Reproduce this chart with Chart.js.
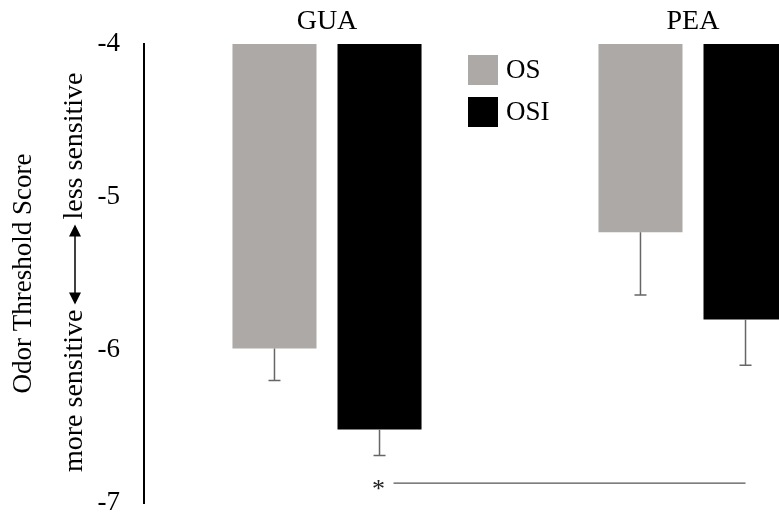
<!DOCTYPE html>
<html>
<head>
<meta charset="utf-8">
<script src="https://cdn.jsdelivr.net/npm/chart.js@4/dist/chart.umd.min.js"></script>
<style>
  html, body { margin: 0; padding: 0; background: #fff; overflow: hidden; }
  #wrap { width: 779px; height: 515px; overflow: hidden; }
</style>
</head>
<body>
<div id="wrap"><canvas id="c" width="876" height="515"></canvas></div>
<script>
// odorants
const categories = ['GUA', 'PEA']
// mean threshold scores (bars hang from -4)
const osValues = [-5.99, -5.23]
const osiValues = [-6.52, -5.80]
// error extents below each bar
const osErrors = [0.21, 0.41]
const osiErrors = [0.17, 0.30]
const yTicks = [-4, -5, -6, -7]
const sigLevel = -6.87

const serif = "'Liberation Serif', 'Times New Roman', serif"

// error bars, hanging below the bars
const errorBars = {
	id: 'errorBars',
	afterDatasetsDraw(chart) {
		const y = chart.scales.y
		const ctx = chart.ctx
		ctx.save()
		ctx.strokeStyle = '#666'
		ctx.lineWidth = 1.5
		chart.data.datasets.forEach((ds, i) => {
			chart.getDatasetMeta(i).data.forEach((bar, j) => {
				const y2 = y.getPixelForValue(ds.data[j] - ds.errors[j])
				ctx.beginPath()
				ctx.moveTo(bar.x, bar.y)
				ctx.lineTo(bar.x, y2)
				ctx.moveTo(bar.x - 6, y2)
				ctx.lineTo(bar.x + 6, y2)
				ctx.stroke()
			})
		})
		ctx.restore()
	}
}

// star + line comparing OSI bars
const significance = {
	id: 'significance',
	afterDatasetsDraw(chart) {
		const ctx = chart.ctx
		const bars = chart.getDatasetMeta(1).data
		const yy = chart.scales.y.getPixelForValue(sigLevel)
		ctx.save()
		ctx.fillStyle = '#222'
		ctx.font = '26px ' + serif
		ctx.textAlign = 'center'
		ctx.textBaseline = 'middle'
		ctx.fillText('*', bars[0].x - 1, yy + 7)
		ctx.strokeStyle = '#555'
		ctx.lineWidth = 1.2
		ctx.beginPath()
		ctx.moveTo(bars[0].x + 14, yy)
		ctx.lineTo(bars[1].x, yy)
		ctx.stroke()
		ctx.restore()
	}
}

// legend drawn inside the plot
const innerLegend = {
	id: 'innerLegend',
	afterDraw(chart) {
		const ctx = chart.ctx
		ctx.save()
		ctx.font = '27px ' + serif
		ctx.textBaseline = 'middle'
		chart.data.datasets.forEach((ds, i) => {
			const top = 55 + i * 42
			ctx.fillStyle = ds.backgroundColor
			ctx.fillRect(468, top, 30, 30)
			ctx.fillStyle = '#000'
			ctx.fillText(ds.label, 506, top + 16)
		})
		ctx.restore()
	}
}

// "more sensitive <-> less sensitive" beside the axis
const sensitivity = {
	id: 'sensitivity',
	afterDraw(chart) {
		const ctx = chart.ctx
		const a = chart.chartArea
		const cy = (a.top + a.bottom) / 2 - 9
		ctx.save()
		ctx.translate(75, cy)
		ctx.rotate(-Math.PI / 2)
		ctx.font = '28px ' + serif
		ctx.fillStyle = '#000'
		ctx.textBaseline = 'middle'
		const half = 40
		ctx.textAlign = 'right'
		ctx.fillText('more sensitive', -half - 5, 0)
		ctx.textAlign = 'left'
		ctx.fillText('less sensitive', half + 5, 0)
		ctx.strokeStyle = '#000'
		ctx.lineWidth = 1.5
		ctx.beginPath()
		ctx.moveTo(-half + 10, 0)
		ctx.lineTo(half - 10, 0)
		ctx.stroke()
		ctx.beginPath()
		ctx.moveTo(-half, 0); ctx.lineTo(-half + 12, -6); ctx.lineTo(-half + 12, 6); ctx.closePath()
		ctx.moveTo(half, 0); ctx.lineTo(half - 12, -6); ctx.lineTo(half - 12, 6); ctx.closePath()
		ctx.fill()
		ctx.restore()
	}
}

const chart = new Chart(document.getElementById('c'), {
	type: 'bar',
	data: {
		labels: categories,
		datasets: [
			{ label: 'OS', data: osValues, errors: osErrors, backgroundColor: '#ada9a6', base: -4 },
			{ label: 'OSI', data: osiValues, errors: osiErrors, backgroundColor: '#000000', base: -4 }
		]
	},
	options: {
		responsive: false,
		animation: false,
		devicePixelRatio: 1,
		layout: { padding: { left: 0, right: 0, top: 0, bottom: 12 } },
		categoryPercentage: 0.574,
		barPercentage: 0.8,
		plugins: { legend: { display: false }, tooltip: { enabled: false } },
		scales: {
			x: {
				position: 'top',
				grid: { display: false, tickLength: 0 },
				border: { display: false },
				ticks: { color: '#000', font: { family: serif, size: 28, lineHeight: 1 }, padding: 8 },
				afterFit: s => { s.height = 44 }
			},
			y: {
				min: -7,
				max: -4,
				afterBuildTicks: s => { s.ticks = yTicks.map(v => ({ value: v })) },
				grid: { display: false, tickLength: 24 },
				border: { display: true, color: '#000', width: 2 },
				ticks: { color: '#000', font: { family: serif, size: 27, lineHeight: 0.8 }, padding: 0 },
				title: {
					display: true,
					text: 'Odor Threshold Score',
					color: '#000',
					font: { family: serif, size: 27 },
					padding: { top: 8, bottom: 0 }
				},
				afterFit: s => { s.width = 144 }
			}
		}
	},
	plugins: [errorBars, significance, innerLegend, sensitivity]
})
</script>
</body>
</html>
